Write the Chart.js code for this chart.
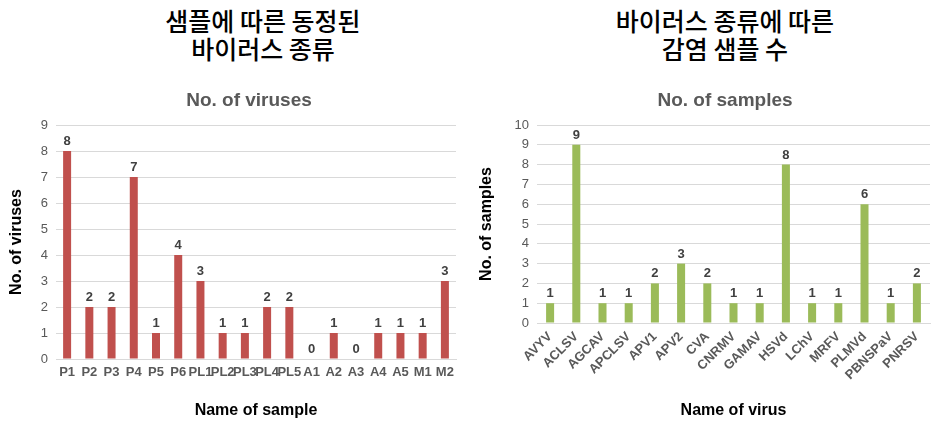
<!DOCTYPE html>
<html>
<head>
<meta charset="utf-8">
<script src="https://cdn.jsdelivr.net/npm/chart.js@4/dist/chart.umd.min.js"></script>
<style>
  body { margin: 0; background: #fff; width: 946px; height: 431px; position: relative; overflow: hidden; }
  .titolo { position: absolute; top: 6px; text-align: center; font-family: 'Noto Sans CJK KR', sans-serif;
            font-weight: 500; font-size: 25px; line-height: 28px; color: #000; white-space: nowrap; }
  .sottotitolo { position: absolute; top: 88px; width: 200px; text-align: center; white-space: nowrap;
            font-family: 'Liberation Sans', Arial, sans-serif; font-weight: bold; font-size: 19px;
            line-height: 23px; color: #595959; }
  .box { position: absolute; top: 0; height: 431px; }
</style>
</head>
<body>
<div class="titolo" style="left:163px; width:200px;">샘플에 따른 동정된<br>바이러스 종류</div>
<div class="titolo" style="left:605px; width:240px;">바이러스 종류에 따른<br>감염 샘플 수</div>
<div class="box" style="left:0; width:470px;"><canvas id="graficoSinistra"></canvas></div>
<div class="box" style="left:470px; width:476px;"><canvas id="graficoDestra"></canvas></div>
<div class="sottotitolo" style="left:149px;">No. of viruses</div>
<div class="sottotitolo" style="left:625px;">No. of samples</div>
<script>
const campioni = ['P1','P2','P3','P4','P5','P6','PL1','PL2','PL3','PL4','PL5','A1','A2','A3','A4','A5','M1','M2'];
const numVirus = [8, 2, 2, 7, 1, 4, 3, 1, 1, 2, 2, 0, 1, 0, 1, 1, 1, 3];

const virus = ['AVYV','ACLSV','AGCAV','APCLSV','APV1','APV2','CVA','CNRMV','GAMAV','HSVd','LChV','MRFV','PLMVd','PBNSPaV','PNRSV'];
const numCampioni = [1, 9, 1, 1, 2, 3, 2, 1, 1, 8, 1, 1, 6, 1, 2];

const font = "'Liberation Sans', Arial, sans-serif";

// etichette sopra le barre
const etichetteValori = {
    id: 'etichetteValori',
    afterDatasetsDraw(chart) {
        const ctx = chart.ctx;
        ctx.save();
        ctx.font = 'bold 13px ' + font;
        ctx.fillStyle = '#404040';
        ctx.textAlign = 'center';
        ctx.textBaseline = 'bottom';
        chart.getDatasetMeta(0).data.forEach((bar, i) => {
            const v = chart.data.datasets[0].data[i];
            ctx.fillText(v, bar.x, bar.y - 3);
        });
        ctx.restore();
    }
};

function creaGrafico(idElemento, etichette, valori, colore, opz) {
    const ctx = document.getElementById(idElemento).getContext('2d');
    new Chart(ctx, {
        type: 'bar',
        data: {
            labels: etichette,
            datasets: [{
                data: valori,
                backgroundColor: colore,
                barPercentage: opz.barra,
                categoryPercentage: 0.6
            }]
        },
        options: {
            responsive: true,
            maintainAspectRatio: false,
            animation: false,
            layout: { padding: { top: 125, right: opz.destra, bottom: 0, left: 0 } },
            plugins: {
                legend: { display: false },
                tooltip: { enabled: false }
            },
            scales: {
                x: {
                    grid: { display: false, drawTicks: false },
                    border: { color: '#d9d9d9' },
                    ticks: {
                        color: '#595959',
                        font: { size: 13, weight: 'bold', family: font },
                        padding: 6,
                        autoSkip: false,
                        minRotation: opz.rotazione,
                        maxRotation: opz.rotazione
                    },
                    title: {
                        display: true,
                        text: opz.titoloX,
                        color: '#000',
                        font: { size: 16, weight: 'bold', family: font },
                        padding: { top: 0, bottom: 11 }
                    },
                    afterFit: s => { s.height = opz.altezzaX; }
                },
                y: {
                    min: 0,
                    max: opz.massimo,
                    grid: { color: '#d9d9d9', drawTicks: false },
                    border: { display: false },
                    ticks: {
                        stepSize: 1,
                        color: '#595959',
                        font: { size: 13, family: font },
                        padding: 8
                    },
                    title: {
                        display: true,
                        text: opz.titoloY,
                        color: '#000',
                        font: { size: 16, weight: 'bold', family: font },
                        padding: { top: 7, bottom: 0 }
                    },
                    afterFit: s => { s.width = opz.larghezzaY; }
                }
            }
        },
        plugins: [etichetteValori]
    });
}

creaGrafico('graficoSinistra', campioni, numVirus, '#c0504d', {
    titoloX: 'Name of sample', titoloY: 'No. of viruses',
    massimo: 9, rotazione: 0, altezzaX: 72, larghezzaY: 56, destra: 14, barra: 0.6
});
creaGrafico('graficoDestra', virus, numCampioni, '#9bbb59', {
    titoloX: 'Name of virus', titoloY: 'No. of samples',
    massimo: 10, rotazione: 45, altezzaX: 108, larghezzaY: 67, destra: 16, barra: 0.51
});
</script>
</body>
</html>
